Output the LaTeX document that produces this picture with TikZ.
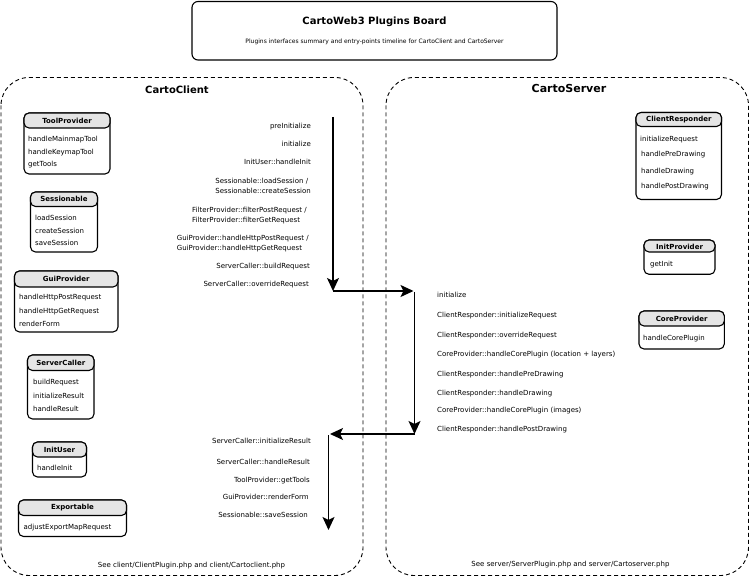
\documentclass[tikz,border=0pt]{standalone}
\usepackage{fontspec}
\setmainfont{DejaVu Sans}
\usetikzlibrary{arrows.meta}
\tikzset{
  item/.style={anchor=west, inner sep=0pt, font=\fontsize{7}{8}\selectfont},
  hdr/.style={inner sep=0pt, font=\bfseries\fontsize{7}{8}\selectfont},
  lbl/.style={inner sep=0pt, anchor=east, align=left, font=\fontsize{7}{10}\selectfont},
  rlbl/.style={inner sep=0pt, anchor=west, font=\fontsize{7}{10}\selectfont},
  note/.style={inner sep=0pt, font=\fontsize{7}{8}\selectfont},
  body/.style={draw, line width=1.1pt, rounded corners=5pt, fill=white},
  head/.style={draw, line width=1.1pt, rounded corners=5pt, fill=black!10},
  titlebox/.style={draw, line width=1.1pt, rounded corners=6pt},
  cont/.style={draw, line width=0.9pt, dash pattern=on 4pt off 3pt, rounded corners=28pt},
  flow/.style={line width=1.3pt, -{Stealth[length=13pt,width=12pt,inset=3pt]}},
}
\newcommand{\umlbox}[6]{%
  % #1 name, #2 x1, #3 y1, #4 x2, #5 y2, #6 header bottom
  \path[body] (#2,#3) rectangle (#4,#5);
  \path[head] (#2,#3) rectangle (#4,#6);
}
\begin{document}
\begin{tikzpicture}[x=1pt,y=-1pt]
\useasboundingbox (0,0) rectangle (750,577);

% title
\path[titlebox] (192,1.5) rectangle (557,60);
\node[inner sep=0pt, font=\bfseries\fontsize{10}{12}\selectfont] (title) at (374.5,21.7) {CartoWeb3 Plugins Board};
\node[inner sep=0pt, font=\fontsize{6}{7}\selectfont] (subtitle) at (374.5,42.3) {Plugins interfaces summary and entry-points timeline for CartoClient and CartoServer};

% containers
\path[cont] (1,77.5) rectangle (363,575.5);
\path[cont] (386,77.5) rectangle (748.5,575.5);
\node[inner sep=0pt, font=\bfseries\fontsize{10}{12}\selectfont] (client) at (177,90) {CartoClient};
\node[inner sep=0pt, font=\bfseries\fontsize{11}{13}\selectfont] (server) at (569,88.3) {CartoServer};

% left boxes
\umlbox{tp}{24}{113}{110}{174}{128}
\node[hdr] (tph) at (67,120.5) {ToolProvider};
\node[item] (tp1) at (28,139.3) {handleMainmapTool};
\node[item] (tp2) at (28,152.3) {handleKeymapTool};
\node[item] (tp3) at (28,164.3) {getTools};

\umlbox{se}{30.5}{192}{97.5}{252}{206.5}
\node[hdr] (seh) at (64,199.3) {Sessionable};
\node[item] (se1) at (35,218.3) {loadSession};
\node[item] (se2) at (35,230.7) {createSession};
\node[item] (se3) at (35,243.3) {saveSession};

\umlbox{gp}{14.5}{271}{118}{332}{287}
\node[hdr] (gph) at (66.3,279) {GuiProvider};
\node[item] (gp1) at (19,297.7) {handleHttpPostRequest};
\node[item] (gp2) at (19,311.7) {handleHttpGetRequest};
\node[item] (gp3) at (19,324) {renderForm};

\umlbox{sc}{27.5}{355}{94}{419}{370.5}
\node[hdr] (sch) at (60.8,362.8) {ServerCaller};
\node[item] (sc1) at (33,382.3) {buildRequest};
\node[item] (sc2) at (33,396) {initializeResult};
\node[item] (sc3) at (33,409.3) {handleResult};

\umlbox{iu}{32.5}{442}{86.5}{477}{457}
\node[hdr] (iuh) at (59.5,449.5) {InitUser};
\node[item] (iu1) at (37,467.7) {handleInit};

\umlbox{ex}{18.5}{500}{126.5}{536.5}{515.5}
\node[hdr] (exh) at (72.5,507.8) {Exportable};
\node[item] (ex1) at (23.5,527.3) {adjustExportMapRequest};

% right boxes
\umlbox{cr}{636}{112.5}{721.5}{199.5}{126.5}
\node[hdr] (crh) at (678.8,119.5) {ClientResponder};
\node[item] (cr1) at (640,139.3) {initializeRequest};
\node[item] (cr2) at (641,154.3) {handlePreDrawing};
\node[item] (cr3) at (641,171.7) {handleDrawing};
\node[item] (cr4) at (641,186.7) {handlePostDrawing};

\umlbox{ip}{644}{240}{715}{274.3}{252}
\node[hdr] (iph) at (679.5,246.5) {InitProvider};
\node[item] (ip1) at (650,264.3) {getInit};

\umlbox{cp}{639}{311}{724.3}{349}{326}
\node[hdr] (cph) at (681.7,318.5) {CoreProvider};
\node[item] (cp1) at (643,338.3) {handleCorePlugin};

% client timeline labels
\node[lbl] (l1) at (311,126.7) {preInitialize};
\node[lbl] (l2) at (311,144) {initialize};
\node[lbl] (l3) at (311,162.3) {InitUser::handleInit};
\node[lbl] (l4) at (311,186) {Sessionable::loadSession /\\Sessionable::createSession};
\node[lbl] (l5) at (307,216) {FilterProvider::filterPostRequest /\\FilterProvider::filterGetRequest};
\node[lbl] (l6) at (309,243.3) {GuiProvider::handleHttpPostRequest /\\GuiProvider::handleHttpGetRequest};
\node[lbl] (l7) at (310,266.7) {ServerCaller::buildRequest};
\node[lbl] (l8) at (309,284.3) {ServerCaller::overrideRequest};

\node[lbl] (b1) at (311,440.7) {ServerCaller::initializeResult};
\node[lbl] (b2) at (310,461.7) {ServerCaller::handleResult};
\node[lbl] (b3) at (310,480.7) {ToolProvider::getTools};
\node[lbl] (b4) at (309,497.3) {GuiProvider::renderForm};
\node[lbl] (b5) at (308,515) {Sessionable::saveSession};

% server timeline labels
\node[rlbl] (r1) at (437,295) {initialize};
\node[rlbl] (r2) at (437,315.7) {ClientResponder::initializeRequest};
\node[rlbl] (r3) at (437,335.5) {ClientResponder::overrideRequest};
\node[rlbl] (r4) at (437,355) {CoreProvider::handleCorePlugin (location + layers)};
\node[rlbl] (r5) at (437,374.3) {ClientResponder::handlePreDrawing};
\node[rlbl] (r6) at (437,393.3) {ClientResponder::handleDrawing};
\node[rlbl] (r7) at (437,411) {CoreProvider::handleCorePlugin (images)};
\node[rlbl] (r8) at (437,430) {ClientResponder::handlePostDrawing};

% notes
\node[note] (n1) at (191.5,566) {See client/ClientPlugin.php and client/Cartoclient.php};
\node[note] (n2) at (570.5,565) {See server/ServerPlugin.php and server/Cartoserver.php};

% flow arrows
\coordinate (a0) at (333,117);
\coordinate (a1) at (333,291);
\coordinate (a2) at (413.5,291);
\coordinate (a3) at (414.5,292);
\coordinate (a4) at (414.5,434);
\coordinate (a5) at (414.5,434);
\coordinate (a6) at (330,434);
\coordinate (a7) at (328.5,435);
\coordinate (a8) at (328.5,530);
\draw[flow] (a0) -- (a1);
\draw[flow] (a1) -- (a2);
\draw[flow] (a3) -- (a4);
\draw[flow] (a5) -- (a6);
\draw[flow] (a7) -- (a8);
\end{tikzpicture}
\end{document}
